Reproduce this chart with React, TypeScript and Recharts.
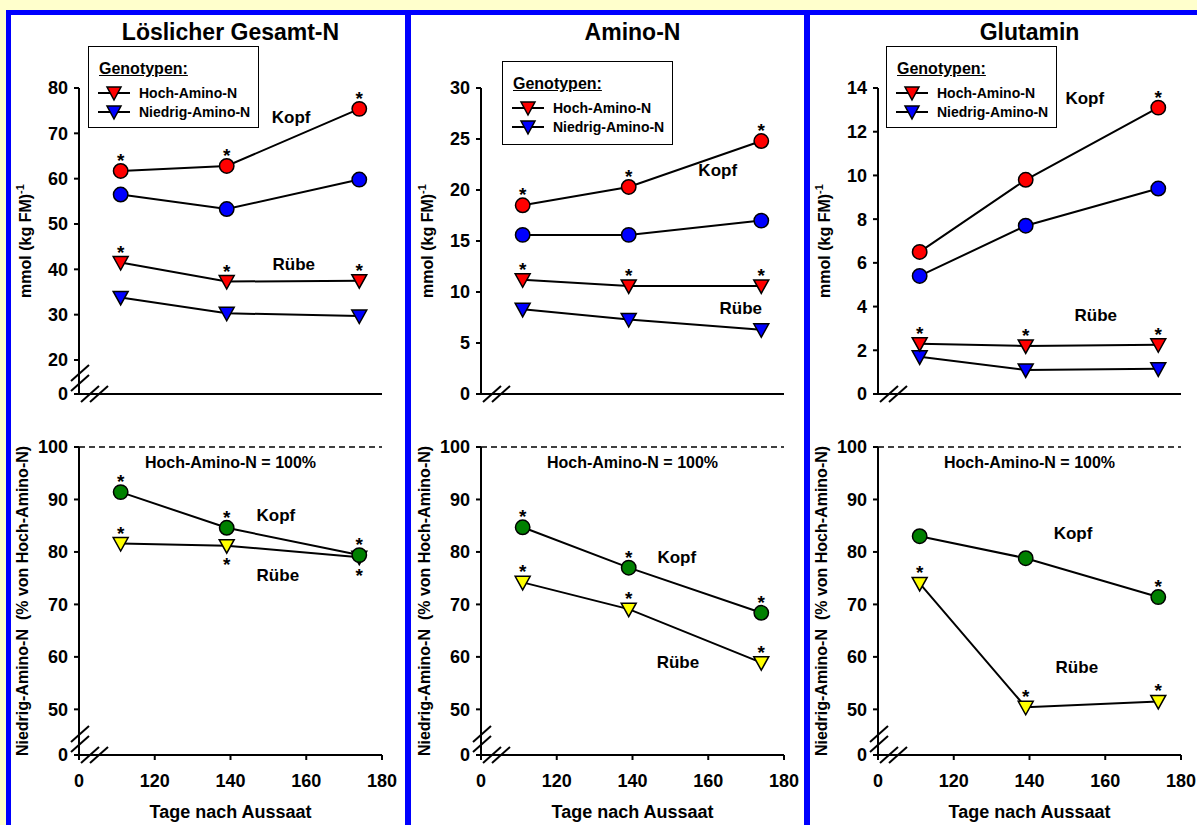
import React from 'react';
import { LineChart, Line, XAxis, YAxis, ReferenceLine, ReferenceDot, Label } from 'recharts';

const FONT = '"Liberation Sans", Arial, Helvetica, sans-serif';

// ---------- shared ----------
const days = [111, 139, 174];
const xTicks = [100, 120, 140, 160, 180];
const xTickLabels = ['0', '120', '140', '160', '180'];
const legendLabels = ['Hoch-Amino-N', 'Niedrig-Amino-N'];
const legendColors = ['#FF0000', '#0000FF'];
const relYTicks = [41.3, 50, 60, 70, 80, 90, 100];
const relYTickLabels = ['0', '50', '60', '70', '80', '90', '100'];

// ---------- Löslicher Gesamt-N ----------
const gesamtKopfHoch = [61.7, 62.8, 75.4];
const gesamtKopfNiedrig = [56.5, 53.3, 59.8];
const gesamtRuebeHoch = [41.5, 37.3, 37.5];
const gesamtRuebeNiedrig = [33.8, 30.3, 29.7];
const gesamtYTicks = [12.5, 20, 30, 40, 50, 60, 70, 80];
const gesamtYTickLabels = ['0', '20', '30', '40', '50', '60', '70', '80'];
const gesamtRelKopf = [91.4, 84.6, 79.4];
const gesamtRelRuebe = [81.6, 81.2, 79.0];
const gesamtKopfHochStars = ['a', 'a', 'a'];
const gesamtRuebeHochStars = ['a', 'a', 'a'];
const gesamtRelKopfStars = ['a', 'a', 'a'];
const gesamtRelRuebeStars = ['a', 'b', 'b'];

// ---------- Amino-N ----------
const aminoKopfHoch = [18.5, 20.3, 24.8];
const aminoKopfNiedrig = [15.6, 15.6, 17.0];
const aminoRuebeHoch = [11.2, 10.6, 10.6];
const aminoRuebeNiedrig = [8.3, 7.3, 6.3];
const aminoYTicks = [0, 5, 10, 15, 20, 25, 30];
const aminoYTickLabels = ['0', '5', '10', '15', '20', '25', '30'];
const aminoRelKopf = [84.7, 77.0, 68.4];
const aminoRelRuebe = [74.2, 69.1, 58.9];
const aminoKopfHochStars = ['a', 'a', 'a'];
const aminoRuebeHochStars = ['a', 'a', 'a'];
const aminoRelKopfStars = ['a', 'a', 'a'];
const aminoRelRuebeStars = ['a', 'a', 'a'];

// ---------- Glutamin ----------
const glutKopfHoch = [6.5, 9.8, 13.1];
const glutKopfNiedrig = [5.4, 7.7, 9.4];
const glutRuebeHoch = [2.3, 2.2, 2.25];
const glutRuebeNiedrig = [1.7, 1.1, 1.15];
const glutYTicks = [0, 2, 4, 6, 8, 10, 12, 14];
const glutYTickLabels = ['0', '2', '4', '6', '8', '10', '12', '14'];
const glutRelKopf = [83.0, 78.8, 71.4];
const glutRelRuebe = [74.0, 50.4, 51.5];
const glutKopfHochStars = ['', '', 'a'];
const glutRuebeHochStars = ['a', 'a', 'a'];
const glutRelKopfStars = ['', '', 'a'];
const glutRelRuebeStars = ['a', 'a', 'a'];

const none = ['', '', ''];

type Series = { key: string; values: number[]; stars: string[]; shape: 'circle' | 'tri'; fill: string };
type Note = { x: number; y: number; text: string; size?: number };

const PLOT_W = 303;
const Y_AXIS_W = 50;

const makeDot = (s: Series) => (p: any) => {
  const { cx, cy, index } = p;
  const k = `${s.key}-${index}`;
  if (cx == null || cy == null) return <g key={k} />;
  const star = s.stars[index];
  return (
    <g key={k}>
      {s.shape === 'circle' ? (
        <circle cx={cx} cy={cy} r={7.2} fill={s.fill} stroke="#000" strokeWidth={1.5} />
      ) : (
        <path d={`M${cx - 7.5},${cy - 6} L${cx + 7.5},${cy - 6} L${cx},${cy + 7.5} Z`} fill={s.fill} stroke="#000" strokeWidth={1.5} />
      )}
      {star ? (
        <text x={cx} y={star === 'a' ? cy - 4 : cy + 25} textAnchor="middle" fontFamily={FONT} fontWeight="bold" fontSize={19} fill="#000">*</text>
      ) : null}
    </g>
  );
};

const textShape = (text: string, size: number) => (p: any) => (
  <text x={p.cx} y={p.cy} textAnchor="middle" dominantBaseline="central" fontFamily={FONT} fontWeight="bold" fontSize={size} fill="#000">{text}</text>
);

const breakShape = (yBreak: boolean) => (p: any) => {
  const { cx, cy } = p;
  const sl = (a: number, b: number, k: string) => (
    <line key={k} x1={a - 9} y1={b + 8} x2={a + 9} y2={b - 8} stroke="#000" strokeWidth={2} />
  );
  return (
    <g>
      {yBreak ? sl(cx + 1, cy - 21, 'y1') : null}
      {yBreak ? sl(cx + 1, cy - 11, 'y2') : null}
      {sl(cx + 11, cy, 'x1')}
      {sl(cx + 20, cy, 'x2')}
    </g>
  );
};

type ChartProps = {
  top: number;
  width: number;
  height: number;
  axisX: number;
  marginTop: number;
  xAxisHeight: number;
  yTicks: number[];
  yTickLabels: string[];
  series: Series[];
  notes: Note[];
  yBreak: boolean;
  bottom: boolean;
};

function Plot(props: ChartProps) {
  const { top, width, height, axisX, marginTop, xAxisHeight, yTicks, yTickLabels, series, notes, yBreak, bottom } = props;
  const data = days.map((d, i) => {
    const row: any = { day: d };
    series.forEach((s) => (row[s.key] = s.values[i]));
    return row;
  });
  const marginLeft = axisX - Y_AXIS_W;
  const marginRight = width - axisX - PLOT_W;
  const plotH = height - marginTop - xAxisHeight;
  const yMin = yTicks[0];
  const yMax = yTicks[yTicks.length - 1];
  const labY = marginTop + plotH / 2;
  const yLabel = () => {
    if (bottom) {
      const lx = axisX - 57;
      return (
        <text x={lx} y={labY} transform={`rotate(-90 ${lx} ${labY})`} textAnchor="middle" dominantBaseline="central" fontFamily={FONT} fontWeight="bold" fontSize={16} fill="#000" style={{ whiteSpace: 'pre' }}>
          {'Niedrig-Amino-N  (% von Hoch-Amino-N)'}
        </text>
      );
    }
    const lx = axisX - 54;
    return (
      <text x={lx} y={labY} transform={`rotate(-90 ${lx} ${labY})`} textAnchor="middle" dominantBaseline="central" fontFamily={FONT} fontWeight="bold" fontSize={16} fill="#000">
        mmol (kg FM)<tspan dy={-5} fontSize={11}>-1</tspan>
      </text>
    );
  };
  const xLabel = () => (
    <text x={axisX + PLOT_W / 2} y={marginTop + plotH + 57} textAnchor="middle" dominantBaseline="central" fontFamily={FONT} fontWeight="bold" fontSize={18} fill="#000">
      Tage nach Aussaat
    </text>
  );
  return (
    <div style={{ position: 'absolute', left: 0, top, width, height }}>
      <LineChart width={width} height={height} data={data} margin={{ top: marginTop, left: marginLeft, right: marginRight, bottom: 0 }}>
        <XAxis
          dataKey="day"
          type="number"
          domain={[100, 180]}
          ticks={xTicks}
          height={xAxisHeight}
          axisLine={{ stroke: '#000', strokeWidth: 2 }}
          tickLine={{ stroke: '#000', strokeWidth: 2 }}
          tickSize={5}
          tickMargin={14}
          tick={bottom ? { fill: '#000', fontSize: 18, fontWeight: 'bold', fontFamily: FONT } : false}
          tickFormatter={(v: number) => xTickLabels[xTicks.indexOf(v)] ?? String(v)}
        >
          {bottom ? <Label content={xLabel} /> : null}
        </XAxis>
        <YAxis
          type="number"
          domain={[yMin, yMax]}
          ticks={yTicks}
          width={Y_AXIS_W}
          axisLine={{ stroke: '#000', strokeWidth: 2 }}
          tickLine={{ stroke: '#000', strokeWidth: 2 }}
          tickSize={5}
          tickMargin={6}
          interval={0}
          tick={{ fill: '#000', fontSize: 18, fontWeight: 'bold', fontFamily: FONT }}
          tickFormatter={(v: number) => yTickLabels[yTicks.indexOf(v)] ?? String(v)}
        >
          <Label content={yLabel} />
        </YAxis>
        {bottom ? <ReferenceLine y={100} stroke="#000" strokeWidth={1.3} strokeDasharray="6 4" /> : null}
        <ReferenceDot x={100} y={yMin} r={0} ifOverflow="visible" shape={breakShape(yBreak)} />
        {notes.map((n, i) => (
          <ReferenceDot key={'n' + i} x={n.x} y={n.y} r={0} ifOverflow="visible" shape={textShape(n.text, n.size ?? 17)} />
        ))}
        {series.map((s) => (
          <Line
            key={s.key}
            dataKey={s.key}
            type="linear"
            stroke="#000"
            strokeWidth={2}
            dot={makeDot(s)}
            activeDot={false}
            isAnimationActive={false}
          />
        ))}
      </LineChart>
    </div>
  );
}

function LegendBox({ left, top, height }: { left: number; top: number; height: number }) {
  return (
    <div style={{ position: 'absolute', left, top, width: 171, height, border: '1px solid #000', background: '#fff', boxSizing: 'border-box', fontFamily: FONT, fontWeight: 'bold', color: '#000' }}>
      <div style={{ position: 'absolute', left: 10, top: 12, fontSize: 16, lineHeight: '20px', textDecoration: 'underline' }}>Genotypen:</div>
      {legendLabels.map((lab, i) => (
        <div key={lab} style={{ position: 'absolute', left: 9, top: 37 + i * 19, height: 18, display: 'flex', alignItems: 'center', whiteSpace: 'nowrap' }}>
          <svg width={32} height={18} style={{ display: 'block' }}>
            <line x1={0} y1={9} x2={32} y2={9} stroke="#000" strokeWidth={2} />
            <path d="M9,3 L23,3 L16,16 Z" fill={legendColors[i]} stroke="#000" strokeWidth={1.5} />
          </svg>
          <span style={{ marginLeft: 9, fontSize: 14 }}>{lab}</span>
        </div>
      ))}
    </div>
  );
}

type PanelProps = {
  left: number;
  width: number;
  axisX: number;
  title: string;
  legendLeft: number;
  legendTop: number;
  legendHeight: number;
  topTicks: number[];
  topTickLabels: string[];
  topBreak: boolean;
  topSeries: Series[];
  topNotes: Note[];
  botSeries: Series[];
  botNotes: Note[];
};

function Panel(p: PanelProps) {
  return (
    <div style={{ position: 'absolute', left: p.left, top: 0, width: p.width, height: 825 }}>
      <div style={{ position: 'absolute', left: p.axisX + PLOT_W / 2 - 150, top: 17, width: 300, textAlign: 'center', fontFamily: FONT, fontWeight: 'bold', fontSize: 23, lineHeight: '30px', color: '#000' }}>
        {p.title}
      </div>
      <Plot top={0} width={p.width} height={430} axisX={p.axisX} marginTop={88} xAxisHeight={36} yTicks={p.topTicks} yTickLabels={p.topTickLabels} series={p.topSeries} notes={p.topNotes} yBreak={p.topBreak} bottom={false} />
      <Plot top={430} width={p.width} height={395} axisX={p.axisX} marginTop={17} xAxisHeight={70} yTicks={relYTicks} yTickLabels={relYTickLabels} series={p.botSeries} notes={p.botNotes} yBreak={true} bottom={true} />
      <LegendBox left={p.legendLeft} top={p.legendTop} height={p.legendHeight} />
    </div>
  );
}

const RED = '#FF0000';
const BLUE = '#0000FF';
const GREEN = '#008000';
const YELLOW = '#FFFF00';

const topSeries = (kh: number[], kn: number[], rh: number[], rn: number[], khs: string[], rhs: string[]): Series[] => [
  { key: 'ruebeNiedrig', values: rn, stars: none, shape: 'tri', fill: BLUE },
  { key: 'ruebeHoch', values: rh, stars: rhs, shape: 'tri', fill: RED },
  { key: 'kopfNiedrig', values: kn, stars: none, shape: 'circle', fill: BLUE },
  { key: 'kopfHoch', values: kh, stars: khs, shape: 'circle', fill: RED },
];
const botSeries = (k: number[], r: number[], ks: string[], rs: string[]): Series[] => [
  { key: 'ruebe', values: r, stars: rs, shape: 'tri', fill: YELLOW },
  { key: 'kopf', values: k, stars: ks, shape: 'circle', fill: GREEN },
];

export default function App() {
  return (
    <div style={{ position: 'absolute', left: 0, top: 0, width: 1197, height: 825, background: '#FFFFCC', overflow: 'hidden' }}>
      <div style={{ position: 'absolute', left: 6, top: 10, width: 1191, height: 815, background: '#0000FF' }} />
      <div style={{ position: 'absolute', left: 11, top: 15, width: 394, height: 810, background: '#fff' }} />
      <div style={{ position: 'absolute', left: 411, top: 15, width: 393, height: 810, background: '#fff' }} />
      <div style={{ position: 'absolute', left: 810, top: 15, width: 387, height: 810, background: '#fff' }} />
      <Panel
        left={11}
        width={394}
        axisX={68}
        title="Löslicher Gesamt-N"
        legendLeft={77}
        legendTop={46}
        legendHeight={82}
        topTicks={gesamtYTicks}
        topTickLabels={gesamtYTickLabels}
        topBreak={true}
        topSeries={topSeries(gesamtKopfHoch, gesamtKopfNiedrig, gesamtRuebeHoch, gesamtRuebeNiedrig, gesamtKopfHochStars, gesamtRuebeHochStars)}
        topNotes={[{ x: 156, y: 73.6, text: 'Kopf' }, { x: 156.7, y: 41.0, text: 'Rübe' }]}
        botSeries={botSeries(gesamtRelKopf, gesamtRelRuebe, gesamtRelKopfStars, gesamtRelRuebeStars)}
        botNotes={[{ x: 140, y: 97, text: 'Hoch-Amino-N = 100%', size: 16 }, { x: 152, y: 87.0, text: 'Kopf' }, { x: 152.5, y: 75.6, text: 'Rübe' }]}
      />
      <Panel
        left={411}
        width={393}
        axisX={70}
        title="Amino-N"
        legendLeft={91}
        legendTop={61}
        legendHeight={84}
        topTicks={aminoYTicks}
        topTickLabels={aminoYTickLabels}
        topBreak={false}
        topSeries={topSeries(aminoKopfHoch, aminoKopfNiedrig, aminoRuebeHoch, aminoRuebeNiedrig, aminoKopfHochStars, aminoRuebeHochStars)}
        topNotes={[{ x: 162.5, y: 21.9, text: 'Kopf' }, { x: 168.6, y: 8.4, text: 'Rübe' }]}
        botSeries={botSeries(aminoRelKopf, aminoRelRuebe, aminoRelKopfStars, aminoRelRuebeStars)}
        botNotes={[{ x: 140, y: 97, text: 'Hoch-Amino-N = 100%', size: 16 }, { x: 151.7, y: 79.0, text: 'Kopf' }, { x: 152, y: 58.9, text: 'Rübe' }]}
      />
      <Panel
        left={810}
        width={387}
        axisX={68}
        title="Glutamin"
        legendLeft={76}
        legendTop={46}
        legendHeight={82}
        topTicks={glutYTicks}
        topTickLabels={glutYTickLabels}
        topBreak={false}
        topSeries={topSeries(glutKopfHoch, glutKopfNiedrig, glutRuebeHoch, glutRuebeNiedrig, glutKopfHochStars, glutRuebeHochStars)}
        topNotes={[{ x: 154.6, y: 13.5, text: 'Kopf' }, { x: 157.5, y: 3.6, text: 'Rübe' }]}
        botSeries={botSeries(glutRelKopf, glutRelRuebe, glutRelKopfStars, glutRelRuebeStars)}
        botNotes={[{ x: 140, y: 97, text: 'Hoch-Amino-N = 100%', size: 16 }, { x: 151.5, y: 83.6, text: 'Kopf' }, { x: 152.5, y: 57.9, text: 'Rübe' }]}
      />
    </div>
  );
}
